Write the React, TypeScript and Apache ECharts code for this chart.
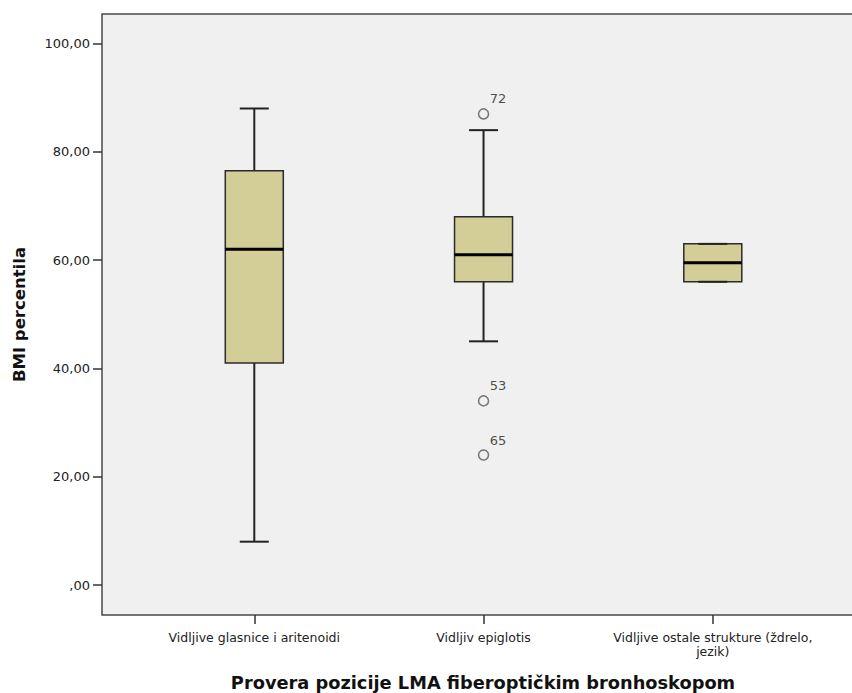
import React, { useEffect, useRef } from "react";
import * as echarts from "echarts";

// Groups on the horizontal axis
const categories = [
  "Vidljive glasnice i aritenoidi",
  "Vidljiv epiglotis",
  "Vidljive ostale strukture (ždrelo,\njezik)",
];

// Five-number summaries per group
const whiskerLow = [8, 45, 56];
const quartile1 = [41, 56, 56];
const medians = [62, 61, 59.5];
const quartile3 = [76.5, 68, 63];
const whiskerHigh = [88, 84, 63];

// Outlying cases: group index (1-based), value, case number
const outlierGroup = [2, 2, 2];
const outlierValues = [87, 34, 24];
const outlierIds = ["72", "53", "65"];

const yTicks = [0, 20, 40, 60, 80, 100];
const xTicks = [1, 2, 3];

const fmtTick = (v: number) => (v === 0 ? ",00" : v.toFixed(2).replace(".", ","));

export default function App() {
  const ref = useRef<HTMLDivElement>(null);

  useEffect(() => {
    document.body.style.margin = "0";
    if (!ref.current) return;
    const chart = echarts.init(ref.current, undefined, { renderer: "svg" });

    const boxData = categories.map((_, i) => [
      i + 1,
      whiskerLow[i],
      quartile1[i],
      medians[i],
      quartile3[i],
      whiskerHigh[i],
    ]);
    const outlierData = outlierValues.map((v, i) => [outlierGroup[i], v, outlierIds[i]]);

    const textColor = "#222";
    const labelFont = "DejaVu Sans";

    chart.setOption({
      animation: false,
      backgroundColor: "#ffffff",
      grid: {
        left: 102,
        top: 14,
        width: 762,
        bottom: 78,
        outerBoundsMode: "none",
        containLabel: false,
        show: true,
        backgroundColor: "#f0f0f0",
        borderColor: "#484848",
        borderWidth: 1.5,
      },
      xAxis: {
        type: "value",
        min: 0.3357,
        max: 3.6596,
        splitLine: { show: false },
        axisLine: { show: false, onZero: false },
        axisTick: {
          show: true,
          customValues: xTicks,
          length: 9,
          lineStyle: { color: "#333", width: 1.5 },
        },
        axisLabel: {
          customValues: xTicks,
          margin: 15,
          color: textColor,
          fontFamily: labelFont,
          fontSize: 12.5,
          lineHeight: 14,
          align: "center",
          formatter: (v: number) => categories[Math.round(v) - 1] ?? "",
        },
        name: "Provera pozicije LMA fiberoptičkim bronhoskopom",
        nameLocation: "middle",
        nameGap: 58,
        nameTextStyle: {
          color: "#111",
          fontFamily: "DejaVu Sans",
          fontWeight: "bold",
          fontSize: 17.8,
        },
      },
      yAxis: {
        type: "value",
        min: -5.54,
        max: 105.45,
        splitLine: { show: false },
        axisLine: { show: false, onZero: false },
        axisTick: {
          show: true,
          customValues: yTicks,
          length: 9,
          lineStyle: { color: "#333", width: 1.5 },
        },
        axisLabel: {
          customValues: yTicks,
          margin: 12,
          color: textColor,
          fontFamily: labelFont,
          fontSize: 13,
          formatter: (v: number) => fmtTick(v),
        },
        name: "BMI percentila",
        nameLocation: "middle",
        nameGap: 74,
        nameTextStyle: {
          color: "#111",
          fontFamily: "DejaVu Sans",
          fontWeight: "bold",
          fontSize: 16.5,
        },
      },
      series: [
        {
          type: "custom",
          data: boxData,
          encode: { x: 0, y: [1, 2, 3, 4, 5] },
          renderItem: (_params: any, api: any) => {
            const x = api.value(0);
            const lo = api.coord([x, api.value(1)]);
            const q1 = api.coord([x, api.value(2)]);
            const md = api.coord([x, api.value(3)]);
            const q3 = api.coord([x, api.value(4)]);
            const hi = api.coord([x, api.value(5)]);
            const unit = api.size([1, 0])[0];
            const boxW = unit * 0.253;
            const capW = boxW / 2;
            const cx = q1[0];
            const stem = { stroke: "#222", lineWidth: 2 };
            return {
              type: "group",
              children: [
                { type: "line", shape: { x1: cx, y1: hi[1], x2: cx, y2: q3[1] }, style: stem },
                { type: "line", shape: { x1: cx, y1: q1[1], x2: cx, y2: lo[1] }, style: stem },
                {
                  type: "rect",
                  shape: { x: cx - boxW / 2, y: q3[1], width: boxW, height: q1[1] - q3[1] },
                  style: { fill: "#d3ce97", stroke: "#2b2b2b", lineWidth: 1.5 },
                },
                {
                  type: "line",
                  shape: { x1: cx - boxW / 2, y1: md[1], x2: cx + boxW / 2, y2: md[1] },
                  style: { stroke: "#000", lineWidth: 3 },
                },
                {
                  type: "line",
                  shape: { x1: cx - capW / 2, y1: hi[1], x2: cx + capW / 2, y2: hi[1] },
                  style: stem,
                },
                {
                  type: "line",
                  shape: { x1: cx - capW / 2, y1: lo[1], x2: cx + capW / 2, y2: lo[1] },
                  style: stem,
                },
              ],
            };
          },
        },
        {
          type: "scatter",
          data: outlierData,
          symbol: "circle",
          symbolSize: 10,
          itemStyle: { color: "rgba(0,0,0,0)", borderColor: "#555", borderWidth: 1.5 },
          label: {
            show: true,
            position: "inside",
            offset: [14.5, -15],
            color: textColor,
            fontFamily: labelFont,
            fontSize: 13,
            formatter: (p: any) => p.value[2],
          },
        },
      ],
    });

    return () => chart.dispose();
  }, []);

  return <div ref={ref} style={{ width: 852, height: 693 }} />;
}
